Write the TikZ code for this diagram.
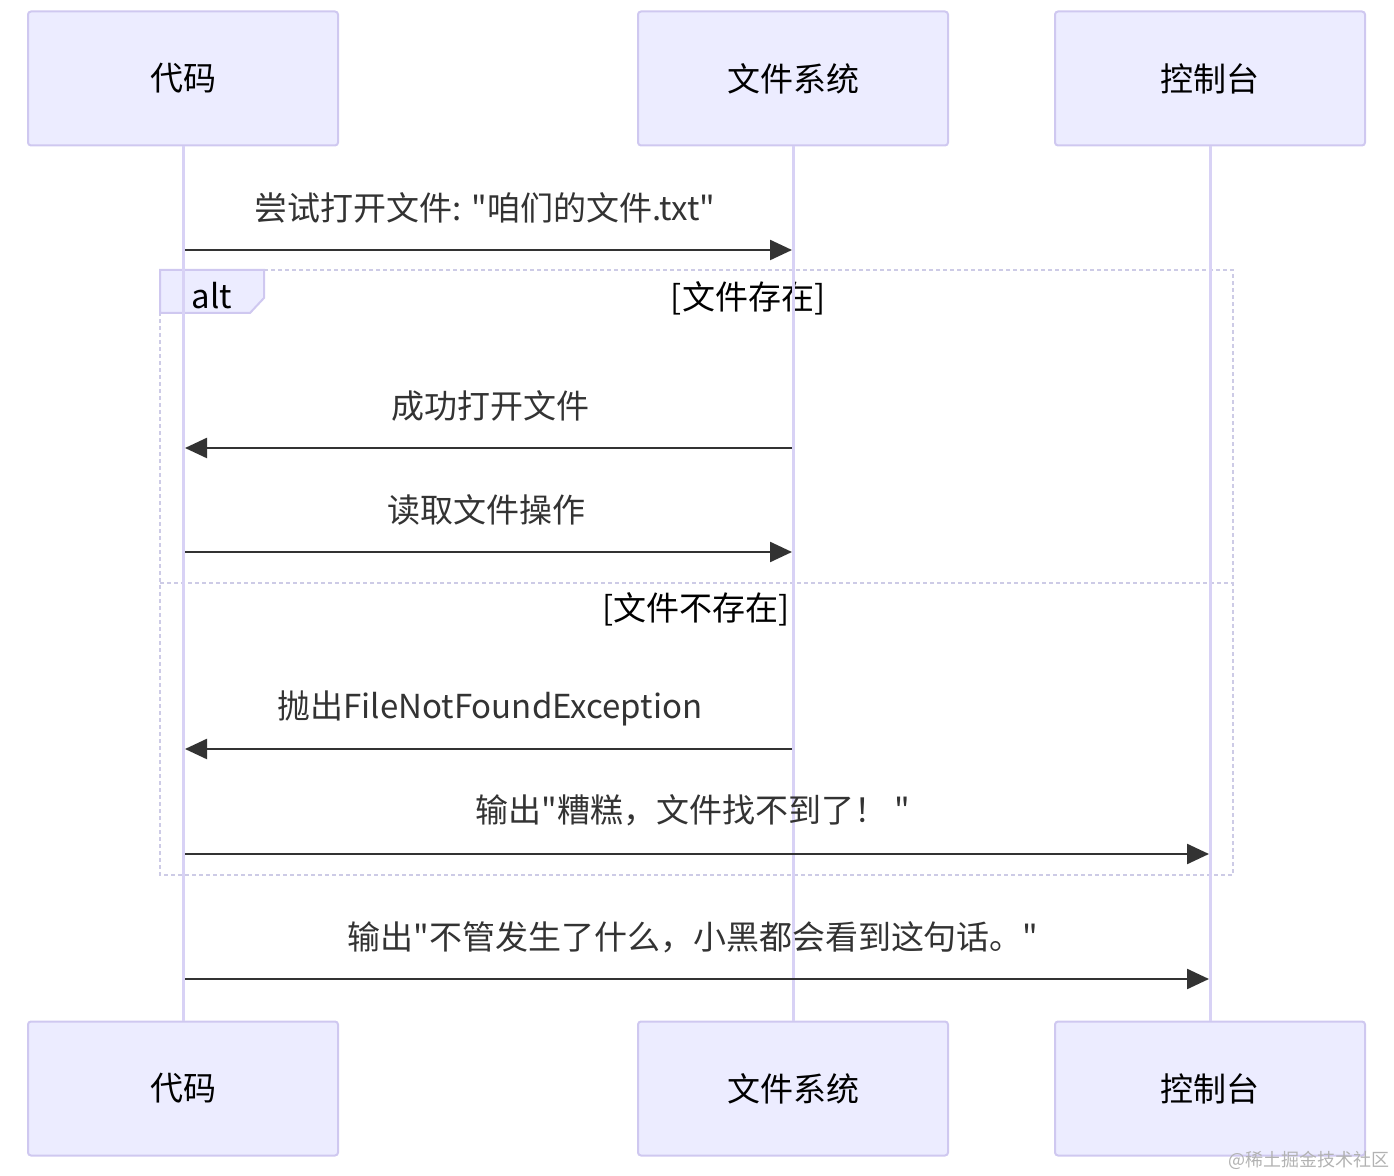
\documentclass[tikz,border=0pt]{standalone}
\usepackage{fontspec}
\setmainfont{Noto Sans CJK SC}[Ligatures=TeXOff]
\usetikzlibrary{positioning,arrows.meta}
\definecolor{actfill}{HTML}{ECECFF}
\definecolor{actline}{HTML}{CFC8F0}
\definecolor{lifeln}{HTML}{D8D2F5}
\definecolor{msgcol}{HTML}{333333}
\definecolor{altline}{HTML}{CDCBE6}
\tikzset{
  actor/.style={rectangle,draw=actline,fill=actfill,line width=1pt,rounded corners=1.5pt,
    minimum width=155pt,minimum height=67pt,font=\fontsize{16.5}{20}\selectfont,text=black},
  life/.style={draw=lifeln,line width=1.5pt},
  msg/.style={-{Triangle[length=11pt,width=10pt]},draw=msgcol,line width=1.2pt},
  lbl/.style={font=\fontsize{16.5}{20}\selectfont,text=msgcol,inner sep=0pt},
  altbox/.style={draw=altline,line width=1.4pt,dash pattern=on 2pt off 1.5pt},
}
\begin{document}
\begin{tikzpicture}[x=0.5pt,y=-0.5pt]
  \useasboundingbox (0,0) rectangle (1394,1176);
  % alt frame
  \draw[altbox] (160,270) rectangle (1233,875);
  \draw[altbox] (160,583) -- (1233,583);
  \filldraw[fill=actfill,draw=actline,line width=1pt] (160,270) -- (264,270) -- (264,298) -- (250,313) -- (160,313) -- cycle;
  \node[lbl,text=black] (alt) at (212,296) {alt};
  \node[lbl,text=black] (yes) at (748,298) {[文件存在]};
  \node[lbl,text=black] (no) at (696,609) {[文件不存在]};
  % actors
  \node[actor] (code) at (183,78.5) {代码};
  \node[actor] (fs) at (793,78.5) {文件系统};
  \node[actor] (con) at (1210,78.5) {控制台};
  \node[actor] (codeb) at (183,1088.5) {代码};
  \node[actor] (fsb) at (793,1088.5) {文件系统};
  \node[actor] (conb) at (1210,1088.5) {控制台};
  \draw[life] (code) -- (codeb);
  \draw[life] (fs) -- (fsb);
  \draw[life] (con) -- (conb);
  % message ends
  \coordinate (c1) at (185,250);  \coordinate (f1) at (792,250);
  \coordinate (c2) at (185,448);  \coordinate (f2) at (792,448);
  \coordinate (c3) at (185,552);  \coordinate (f3) at (792,552);
  \coordinate (c4) at (185,749);  \coordinate (f4) at (792,749);
  \coordinate (c5) at (185,854);  \coordinate (k5) at (1209,854);
  \coordinate (c6) at (185,979);  \coordinate (k6) at (1209,979);
  % messages
  \draw[msg] (c1) -- (f1);
  \node[lbl] (m1) at (485,208) {尝试打开文件: "咱们的文件.txt"};
  \draw[msg] (f2) -- (c2);
  \node[lbl] (m2) at (490,406) {成功打开文件};
  \draw[msg] (c3) -- (f3);
  \node[lbl] (m3) at (486,510) {读取文件操作};
  \draw[msg] (f4) -- (c4);
  \node[lbl] (m4) at (490,708) {抛出FileNotFoundException};
  \draw[msg] (c5) -- (k5);
  \node[lbl] (m5) at (693,810) {输出"糟糕，文件找不到了！ "};
  \draw[msg] (c6) -- (k6);
  \node[lbl] (m6) at (693,937) {输出"不管发生了什么，小黑都会看到这句话。"};
  % watermark
  \node[font=\fontsize{9}{10}\selectfont,text=black!30,anchor=east,inner sep=0pt] (wm) at (1390,1160) {@稀土掘金技术社区};
\end{tikzpicture}
\end{document}
